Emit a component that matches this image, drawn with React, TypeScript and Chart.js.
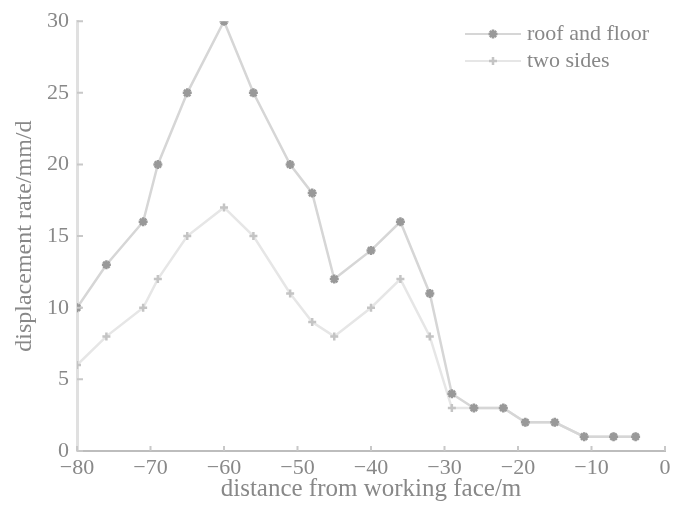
import React, { useEffect, useRef } from "react";
import { Chart, registerables } from "chart.js";

Chart.register(...registerables);

const distances = [-80, -76, -71, -69, -65, -60, -56, -51, -48, -45, -40, -36, -32, -29, -26, -22, -19, -15, -11, -7, -4];
const roofAndFloor = [10, 13, 16, 20, 25, 30, 25, 20, 18, 12, 14, 16, 11, 4, 3, 3, 2, 2, 1, 1, 1];
const twoSides = [6, 8, 10, 12, 15, 17, 15, 11, 9, 8, 10, 12, 8, 3, 3, 3, 2, 2, 1, 1, 1];
const seriesNames = ["roof and floor", "two sides"];
const xTitle = "distance from working face/m";
const yTitle = "displacement rate/mm/d";

const FONT = "'Liberation Serif', 'DejaVu Serif', serif";
const TEXT = "#888888";

function drawMarker(ctx: CanvasRenderingContext2D, style: string, x: number, y: number, r: number, color: string, w: number) {
  ctx.save();
  ctx.strokeStyle = color;
  ctx.lineWidth = w;
  ctx.beginPath();
  ctx.moveTo(x - r, y);
  ctx.lineTo(x + r, y);
  ctx.moveTo(x, y - r);
  ctx.lineTo(x, y + r);
  if (style === "star") {
    const d = r * 0.7;
    ctx.moveTo(x - d, y - d);
    ctx.lineTo(x + d, y + d);
    ctx.moveTo(x - d, y + d);
    ctx.lineTo(x + d, y - d);
  }
  ctx.stroke();
  ctx.restore();
}

const decorPlugin = {
  id: "decor",
  afterDraw(chart: any) {
    const ctx = chart.ctx as CanvasRenderingContext2D;
    const { left, bottom } = chart.chartArea;
    const xs = chart.scales.x;
    const ys = chart.scales.y;
    ctx.save();
    ctx.strokeStyle = "#c8c8c8";
    ctx.lineWidth = 2;
    ctx.beginPath();
    xs.ticks.forEach((t: any) => {
      const px = xs.getPixelForValue(t.value);
      ctx.moveTo(px, bottom);
      ctx.lineTo(px, bottom - 5);
    });
    ys.ticks.forEach((t: any) => {
      const py = ys.getPixelForValue(t.value);
      ctx.moveTo(left, py);
      ctx.lineTo(left + 6, py);
    });
    ctx.stroke();
    // legend
    chart.data.datasets.forEach((ds: any, i: number) => {
      const y = 34 + i * 27;
      ctx.strokeStyle = ds.borderColor;
      ctx.lineWidth = 2;
      ctx.beginPath();
      ctx.moveTo(465, y);
      ctx.lineTo(521, y);
      ctx.stroke();
      drawMarker(ctx, ds.pointStyle, 493, y, ds.pointRadius, ds.pointBorderColor, ds.pointBorderWidth);
      ctx.fillStyle = TEXT;
      ctx.font = `22px ${FONT}`;
      ctx.textBaseline = "middle";
      ctx.textAlign = "left";
      ctx.fillText(ds.label, 527, y);
    });
    ctx.restore();
  },
};

export default function App() {
  const ref = useRef<HTMLCanvasElement | null>(null);
  useEffect(() => {
    if (!ref.current) return;
    const chart = new Chart(ref.current, {
      type: "line",
      data: {
        datasets: [
          {
            label: seriesNames[0],
            data: distances.map((d, i) => ({ x: d, y: roofAndFloor[i] })),
            borderColor: "#d6d6d6",
            borderWidth: 2.5,
            pointStyle: "star",
            pointRadius: 4.5,
            pointBorderColor: "#999999",
            pointBorderWidth: 2.5,
            pointBackgroundColor: "#999999",
            tension: 0,
          },
          {
            label: seriesNames[1],
            data: distances.map((d, i) => ({ x: d, y: twoSides[i] })),
            borderColor: "#e6e6e6",
            borderWidth: 2.5,
            pointStyle: "cross",
            pointRadius: 4,
            pointBorderColor: "#c4c4c4",
            pointBorderWidth: 2.5,
            pointBackgroundColor: "#c4c4c4",
            tension: 0,
          },
        ],
      },
      options: {
        responsive: false,
        animation: false,
        layout: { padding: { left: 0, top: 18, right: 10, bottom: 0 } },
        plugins: { legend: { display: false }, tooltip: { enabled: false } },
        scales: {
          x: {
            type: "linear",
            min: -80,
            max: 0,
            ticks: {
              stepSize: 10,
              padding: 4,
              color: TEXT,
              font: { family: FONT, size: 22 },
              callback: (v: any) => (Number(v) < 0 ? "\u2212" + Math.abs(Number(v)) : String(v)),
            },
            grid: { display: false, drawTicks: false },
            border: { display: true, color: "#bdbdbd", width: 2 },
            title: { display: true, text: xTitle, color: TEXT, font: { family: FONT, size: 25 }, padding: { top: 0, bottom: 3 } },
            afterFit: (s: any) => { s.height = 56; },
          },
          y: {
            min: 0,
            max: 30,
            ticks: { stepSize: 5, padding: 8, color: TEXT, font: { family: FONT, size: 22 } },
            grid: { display: false, drawTicks: false },
            border: { display: true, color: "#e0e0e0", width: 3 },
            title: { display: true, text: yTitle, color: TEXT, font: { family: FONT, size: 24 }, padding: { top: 10, bottom: 0 } },
            afterFit: (s: any) => { s.width = 77; },
          },
        },
      },
      plugins: [decorPlugin],
    } as any);
    return () => chart.destroy();
  }, []);
  return (
    <div style={{ position: "fixed", left: 0, top: 0, width: 675, height: 507, background: "#fff" }}>
      <canvas ref={ref} width={675} height={507} />
    </div>
  );
}
